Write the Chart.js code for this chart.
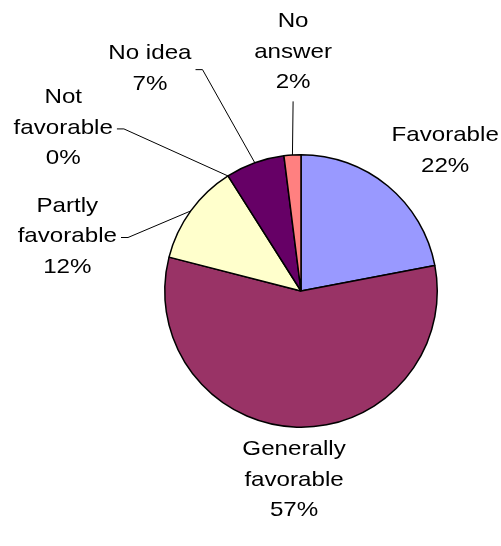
<!DOCTYPE html>
<html>
<head>
<meta charset="utf-8">
<script src="https://cdn.jsdelivr.net/npm/chart.js@4/dist/chart.umd.min.js"></script>
<style>
	html, body {margin: 0; padding: 0; background: #fff;}
	#wrap {width: 501px; height: 546px; position: relative;}
</style>
</head>
<body>
<div id="wrap"><canvas id="myChart"></canvas></div>
<script>
const categories = ['Favorable', 'Generally favorable', 'Partly favorable', 'Not favorable', 'No idea', 'No answer'];
const shares = [22, 57, 12, 0, 7, 2];
const labelLines = [['Favorable'], ['Generally', 'favorable'], ['Partly', 'favorable'], ['Not', 'favorable'], ['No idea'], ['No', 'answer']];
const sliceColors = ['#9999FF', '#993366', '#FFFFCC', '#CCFFFF', '#660066', '#FF8080'];

class PieChart {
	constructor (){
		const _ = this;

		// label block centres, in radii from the pie centre, and leader style
		_.labelPos = [[1.058, -1.03], [-0.051, 1.387], [-1.715, -0.40], [-1.745, -1.197], [-1.109, -1.632], [-0.058, -1.755]];
		_.leaders = [null, null, 'side', 'side', 'side', 'below'];
		_.lineH = 30.5;
		_.stretch = 1.15;
		_.init();
	}

	labelsPlugin(){
		const _ = this;
		return {
			id: 'pieLabels',
			afterDatasetsDraw(chart){
				const ctx = chart.ctx;
				const meta = chart.getDatasetMeta(0);
				ctx.save();
				ctx.font = '21px "Liberation Sans", Arial, sans-serif';
				ctx.textAlign = 'center';
				ctx.textBaseline = 'middle';
				ctx.fillStyle = '#000';
				ctx.strokeStyle = '#000';
				ctx.lineWidth = 1;
				meta.data.forEach(function (arc, i){
					const p = arc.getProps(['x', 'y', 'startAngle', 'endAngle', 'outerRadius'], true);
					const mid = (p.startAngle + p.endAngle) / 2;
					const ax = p.x + Math.cos(mid) * p.outerRadius;
					const ay = p.y + Math.sin(mid) * p.outerRadius;
					const lx = p.x + _.labelPos[i][0] * p.outerRadius;
					const ly = p.y + _.labelPos[i][1] * p.outerRadius;
					const lines = labelLines[i].concat([shares[i] + '%']);
					const n = lines.length;
					let maxW = 0;
					lines.forEach(function (t, j){
						const ty = ly + (j - (n - 1) / 2) * _.lineH;
						ctx.save();
						ctx.translate(lx, ty);
						ctx.scale(_.stretch, 1);
						ctx.fillText(t, 0, 0);
						ctx.restore();
						if (j < n - 1 || n === 2) maxW = Math.max(maxW, ctx.measureText(t).width * _.stretch);
					});
					if (_.leaders[i] === 'side'){
						const sx = lx + maxW / 2 + 4;
						const sy = ly + 1;
						ctx.beginPath();
						ctx.moveTo(sx, sy);
						ctx.lineTo(sx + 7, sy);
						ctx.lineTo(ax, ay);
						ctx.stroke();
					}
					else if (_.leaders[i] === 'below'){
						const sy = ly + (n - 1) / 2 * _.lineH + 19;
						ctx.beginPath();
						ctx.moveTo(lx, sy);
						ctx.lineTo(ax, ay);
						ctx.stroke();
					}
				});
				ctx.restore();
			}
		};
	}

	start(){
		const _ = this;
		const ctx = document.getElementById('myChart');
		let data = {
			labels: categories,
			datasets: [{
				data: shares,
				backgroundColor: sliceColors,
				borderColor: '#000',
				borderWidth: 1.5,
				hoverOffset: 0
			}]
		};
		_.chart = new Chart(ctx, {
			type: 'pie',
			data: data,
			options: {
				responsive: true,
				maintainAspectRatio: false,
				animation: false,
				layout: {
					padding: {left: 164, right: 63, top: 154, bottom: 118}
				},
				plugins: {
					legend: {display: false},
					tooltip: {enabled: false}
				}
			},
			plugins: [_.labelsPlugin()]
		});
	}

	init(){
		const _ = this;
		_.start();
	}
}
new PieChart();
</script>
</body>
</html>
